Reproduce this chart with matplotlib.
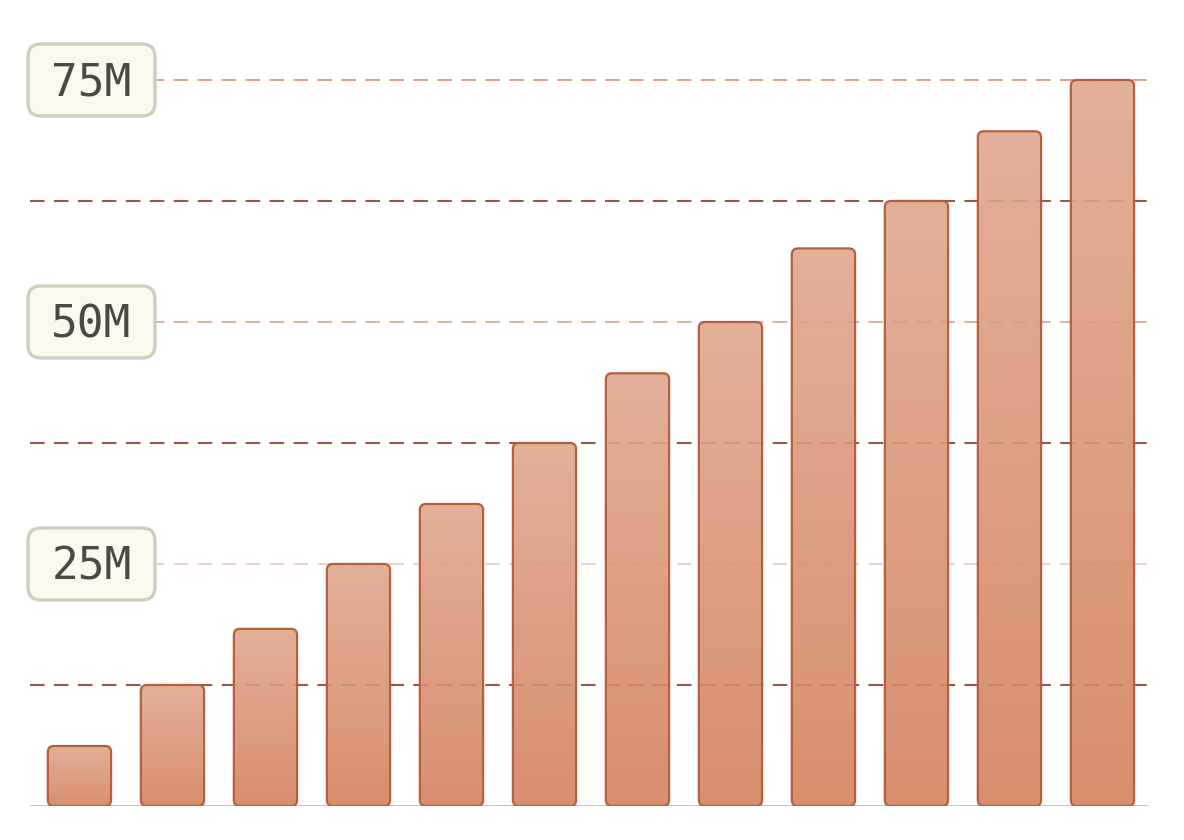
import numpy as np
import matplotlib.pyplot as plt
from matplotlib.patches import FancyBboxPatch
from matplotlib.colors import LinearSegmentedColormap
from matplotlib.transforms import blended_transform_factory


# bar heights in millions
values = [6.2, 12.5, 18.3, 25.0, 31.2, 37.5, 44.7, 50.0, 57.6, 62.5, 69.7, 75.0]
label_values = [25, 50, 75]
label_texts = ["25M", "50M", "75M"]
mid_values = [12.5, 37.5, 62.5]

W, H = 1184, 840
fig = plt.figure(figsize=(W / 100, H / 100), dpi=100)
fig.patch.set_facecolor("white")

# axes box in pixels: x 30..1155, y 40..806
ax = fig.add_axes([30 / W, (H - 806) / H, 1125 / W, 766 / H])
ax.set_xlim(-0.532, 11.565)
ax.set_ylim(0, 79.13)
ax.axis("off")

# pixel sizes of one data unit
px_x = 1125 / (11.565 + 0.532)
px_y = 766 / 79.13

# dashed grid lines
dash = (0, (7, 4.5))
for v in mid_values:
    ax.hlines(v, -0.532, 11.565, colors="#9d5842", lw=1.5, linestyles=dash, zorder=1)
light = ["#f0d3c8", "#dcb2a3", "#dba690"]
for v, c in zip(label_values, light):
    ax.hlines(v, -0.532, 11.565, colors=c, lw=1.5, linestyles=dash, zorder=1)

# baseline
ax.hlines(0, -0.532, 11.48, colors="#d6b0a4", lw=2, zorder=1)

# bars with rounded corners and vertical gradient
cmap = LinearSegmentedColormap.from_list("bar", ["#d4825e", "#e0a78d"])
grad = np.linspace(0, 1, 256).reshape(-1, 1)
bw = 0.68
r = 6 / px_x
asp = px_x / px_y
for i, v in enumerate(values):
    x0 = i - bw / 2
    im = ax.imshow(grad, extent=(x0, x0 + bw, 0, v), origin="lower", cmap=cmap,
                   aspect="auto", zorder=2, alpha=0.9, interpolation="bilinear")
    box = FancyBboxPatch((x0, 0), bw, v, boxstyle=f"round,pad=0,rounding_size={r}",
                         mutation_aspect=asp, facecolor="none", edgecolor="#b65f40",
                         lw=1.6, zorder=3)
    ax.add_patch(box)
    im.set_clip_path(box)

ax.set_xlim(-0.532, 11.565)
ax.set_ylim(0, 79.13)

# value labels in rounded boxes at the left
trans = blended_transform_factory(fig.transFigure, ax.transData)
bx0, bx1 = 28 / W, 155 / W
bh = 72 / px_y
for v, t in zip(label_values, label_texts):
    lab = FancyBboxPatch((bx0, v - bh / 2), bx1 - bx0, bh,
                         boxstyle=f"round,pad=0,rounding_size={13 / W}",
                         mutation_aspect=W / px_y, transform=trans,
                         facecolor="#fbf8ec", edgecolor="#d0cec0", lw=2.4,
                         zorder=5, clip_on=False)
    fig.patches.append(lab)
    fig.text(91.5 / W, v - 15.7 / px_y, t, transform=trans, ha="center", va="baseline",
             fontsize=32, family="DejaVu Sans Mono", color="#4a4944", zorder=6)

fig.savefig("out.png", dpi=100)
